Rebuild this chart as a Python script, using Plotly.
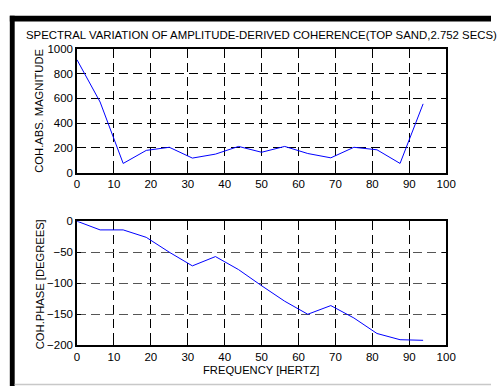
import plotly.graph_objects as go

W, H = 501, 392

freq = [0, 6.25, 12.5, 18.75, 25, 31.25, 37.5, 43.75, 50, 56.25, 62.5, 68.75, 75, 81.25, 87.5, 93.75]
magnitude = [910, 570, 75, 180, 205, 118, 150, 212, 165, 212, 155, 120, 205, 185, 75, 555]
phase = [0, -14, -14, -26, -50, -72, -57, -78, -104, -129, -150, -136, -156, -181, -191, -192]

x_ticks = [0, 10, 20, 30, 40, 50, 60, 70, 80, 90, 100]
mag_ticks = [0, 200, 400, 600, 800, 1000]
phase_ticks = [-200, -150, -100, -50, 0]

title_text = "SPECTRAL VARIATION OF AMPLITUDE-DERIVED COHERENCE(TOP SAND,2.752 SECS)"
mag_label = "COH.ABS. MAGNITUDE"
phase_label = "COH.PHASE [DEGREES]"
freq_label = "FREQUENCY [HERTZ]"

FONT = "Liberation Sans, Arial, sans-serif"

def px(x):
    return x / W

def py(y):
    return 1 - y / H

fig = go.Figure()
fig.add_trace(go.Scatter(x=freq, y=magnitude, mode="lines",
                         line=dict(color="#0000ff", width=1), xaxis="x", yaxis="y", showlegend=False))
fig.add_trace(go.Scatter(x=freq, y=phase, mode="lines",
                         line=dict(color="#0000ff", width=1), xaxis="x2", yaxis="y2", showlegend=False))

common_axis = dict(showline=True, linecolor="black", linewidth=1.5, mirror="ticks",
                   ticks="inside", ticklen=4, tickcolor="black", zeroline=False,
                   tickfont=dict(family=FONT, size=11.5, color="black"),
                   showgrid=True, griddash="9px,5px", gridwidth=1)

fig.update_layout(
    width=W, height=H,
    margin=dict(l=0, r=0, t=0, b=0),
    paper_bgcolor="white", plot_bgcolor="white",
    xaxis=dict(domain=[px(76), px(455)], range=[0, 100], tickvals=x_ticks,
               anchor="y", gridcolor="black", **common_axis),
    yaxis=dict(domain=[py(172), py(44)], range=[0, 1000], tickvals=mag_ticks,
               anchor="x", gridcolor="black", **common_axis),
    xaxis2=dict(domain=[px(76), px(455)], range=[0, 100], tickvals=x_ticks,
                anchor="y2", gridcolor="black", **common_axis),
    yaxis2=dict(domain=[py(350), py(222)], range=[-200, 0], tickvals=phase_ticks,
                anchor="x2", gridcolor="#555555", **common_axis),
)

ann_font = dict(family=FONT, size=11.2, color="black")
fig.add_annotation(text=title_text, x=px(265.5), y=py(30), xref="paper", yref="paper",
                   showarrow=False, font=dict(family=FONT, size=11.4, color="black"),
                   xanchor="center", yanchor="middle")
fig.add_annotation(text=mag_label, x=px(37), y=py(108), xref="paper", yref="paper",
                   showarrow=False, font=ann_font, textangle=-90, xanchor="center", yanchor="middle")
fig.add_annotation(text=phase_label, x=px(38), y=py(287), xref="paper", yref="paper",
                   showarrow=False, font=ann_font, textangle=-90, xanchor="center", yanchor="middle")
fig.add_annotation(text=freq_label, x=px(265), y=py(375), xref="paper", yref="paper",
                   showarrow=False, font=ann_font, xanchor="center", yanchor="middle")

# outer frame
fig.add_shape(type="rect", xref="paper", yref="paper", x0=px(7), x1=px(501), y0=py(16), y1=py(10),
              fillcolor="black", line=dict(width=0), layer="above")
fig.add_shape(type="rect", xref="paper", yref="paper", x0=px(7), x1=px(12), y0=py(392), y1=py(10),
              fillcolor="black", line=dict(width=0), layer="above")
fig.add_shape(type="line", xref="paper", yref="paper", x0=px(12), x1=px(501), y0=py(390.5), y1=py(390.5),
              line=dict(color="#c8c8c8", width=1.5), layer="above")

fig.write_html("out.html")
